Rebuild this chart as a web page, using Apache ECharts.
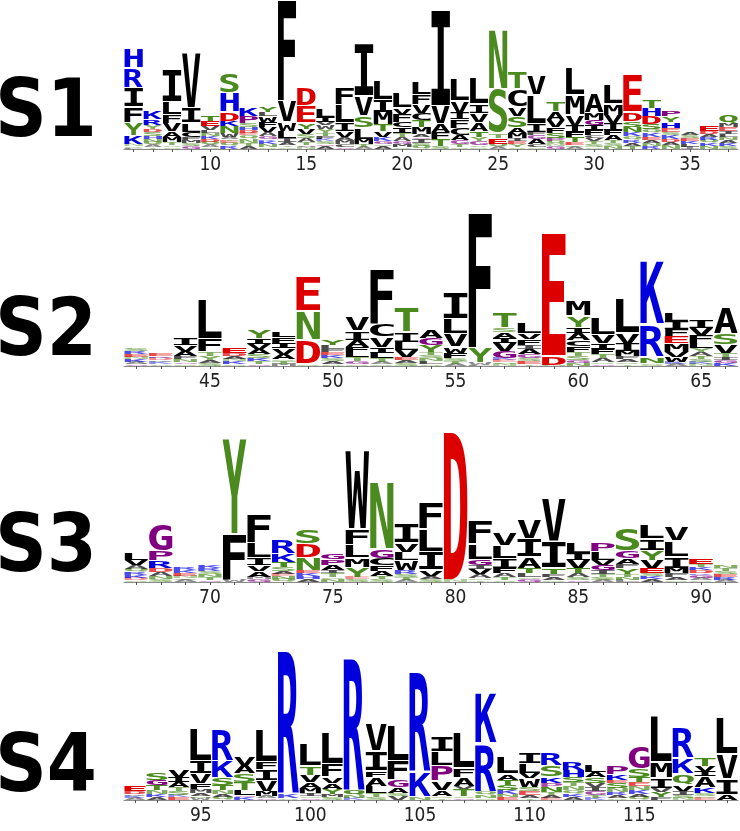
<!DOCTYPE html>
<html>
<head>
<meta charset="utf-8">
<script src="https://cdn.jsdelivr.net/npm/echarts@6/dist/echarts.min.js"></script>
<style>html,body{margin:0;padding:0;background:#fff}#c{width:740px;height:831px}</style>
</head>
<body>
<div id="c"></div>
<script>
// ---- Sequence logo data: each column lists letters bottom -> top with relative heights ----
const panelLabels = ['S1', 'S2', 'S3', 'S4'];

const s1Positions = ['6','7','8','9','10','11','12','13','14','15','16','17','18','19','20','21','22','23','24','25','26','27','28','29','30','31','32','33','34','35','36','37'];
const s1Columns = [
  'L1 Q2 N2 K8 Y13 F16 I19 R20 H20',
  'T2 A2 Q3 N3 H3 S4 D3 Y4 R6 K8',
  'Q2 S2 T3 M5 A6 V8 F8 L13 I33',
  'G3 S3 M3 F3 C5 L9 I15 V56',
  'S2 A2 Q3 D3 K3 N3 L3 V4 E5 T5',
  'R3 Q3 E2 T2 A2 W4 N7 K5 D9 H19 S21',
  'A3 T3 N4 Q4 E2 D3 H3 S4 P7 K8',
  'S2 N3 K3 R2 G3 A4 V5 F5 W6 L4 Y5',
  'S2 T2 A3 I4 L7 W9 V21 F101',
  'N2 G2 T3 A4 S4 V5 Y6 E17 D18',
  'A3 G2 S3 K2 F3 T3 Y4 W4 V3 I5 L9',
  'G2 C3 M4 A3 V6 I8 L18 F17',
  'A2 T3 M5 L11 S12 V20 I53',
  'A3 S2 G3 K4 V6 T7 M12 I12 L20',
  'S2 M3 G3 A4 T4 I6 C5 F8 V6 L15',
  'Q3 S3 I4 G2 A3 M7 T7 C7 V9 F10 L12',
  'S3 T7 F7 A8 V18 I96',
  'S2 T3 G4 A5 C7 F9 I7 V11 L23',
  'S2 Q2 G4 Y4 T6 A9 V9 I9 L26',
  'A2 Q3 E6 T4 S45 N60',
  'Q2 Y3 E3 I3 M5 A5 S12 V9 C18 T17',
  'S2 C3 A5 G4 F3 I8 L29 V20',
  'G3 N2 Q3 P3 S5 F6 V7 A8 T10',
  'A2 S2 E3 T5 F5 I7 V10 M20 L28',
  'Q2 S3 T3 V3 C3 F5 I5 G5 M7 A20',
  'N3 S3 T3 A5 F5 I7 V8 M11 L19',
  'T3 A3 R3 Q4 K4 N5 S6 D9 E39',
  'R3 N3 A3 E3 K4 Q4 S5 D8 H8 T9',
  'N4 A3 D3 K4 S3 E4 H6 Y6 P6',
  'I2 L3 K3 E3 S3 A3',
  'N3 K3 Q3 R3 A3 D3 E5',
  'S3 K3 A3 N3 L3 I3 E4 M4 Q8'
];

const s2Positions = ['42','43','44','45','46','47','48','49','50','51','52','53','54','55','56','57','58','59','60','61','62','63','64','65','66'];
const s2Columns = [
  'G2 A2 K3 N2 E3 R3 S3',
  'Q2 K2 S2 D2 R2 E3',
  'S2 G2 N3 F3 A5 V6 I7',
  'S3 A3 Y4 T4 F13 L40',
  'S2 K3 N2 A3 D3 E5',
  'G2 T3 K3 S4 A5 V5 I6 Y8',
  'M2 T3 S2 A5 V6 I5 F6 L5',
  'S2 D24 N29 E35',
  'Q2 A3 S3 K3 E3 F3 L4 Y6',
  'S2 G3 T4 L5 F5 A7 I9 V14',
  'S2 A2 T4 L5 I6 V10 C13 F56',
  'S3 A3 E3 V7 L8 I10 T26',
  'Q2 L3 N3 S3 T3 Y7 G7 A8',
  'A2 T3 S3 F5 W6 V13 L15 I27',
  'L1 W2 Y15 F135',
  'N2 Q2 E2 K2 G7 V8 I5 A6 S4 T16',
  'T2 E3 S3 G4 A5 I4 F6 V6 L11',
  'N1 D9 E124',
  'N3 G3 S4 T4 F6 C6 A7 I6 Y11 M16',
  'G2 S2 A4 T4 F5 I6 V8 L17',
  'T2 S2 A3 F3 M5 I8 V10 L35',
  'S1 Q2 N6 R33 K64',
  'A2 K2 W5 V5 M9 E7 F7 I8 L8',
  'N2 K2 S3 T3 A4 Y4 L5 F8 V7 I8',
  'K3 G3 I3 T4 V8 S11 A26'
];

const s3Positions = ['67','68','69','70','71','72','73','74','75','76','77','78','79','80','81','82','83','84','85','86','87','88','89','90','91'];
const s3Columns = [
  'S2 D2 K3 R3 Q3 A4 V5 L7',
  'S3 N3 A4 D4 R7 P10 G28',
  'A2 S2 N2 E3 K3 R3',
  'G2 T3 N3 S3 R3 K3',
  'W2 F46 Y96',
  'G3 M2 A6 V6 I7 L15 F30',
  'Q3 N3 E2 A3 S4 T5 K8 R14',
  'A3 H3 K3 E3 N12 D14 S14',
  'N3 S2 T4 I3 A5 P6 G5',
  'S3 E2 Y10 M9 L13 F16 W79',
  'S3 T3 A5 F6 C7 G9 N67',
  'A2 T3 S3 R4 W10 L8 V9 I20',
  'S3 A3 V6 I18 L23 F27',
  'N2 D148',
  'T2 S2 A4 V5 I4 G5 L16 F24',
  'S2 T3 A4 F5 I10 L12 V13',
  'G3 S2 L4 T5 A11 I18 V19',
  'S2 A3 F3 T6 I26 V44',
  'G2 S3 A4 T5 V8 I7 L11',
  'A2 S3 T3 I4 G5 V5 L9 P9',
  'L2 N3 T3 Y6 F4 A6 G7 S24',
  'A3 K3 S3 E5 V8 Y10 I11 L14',
  'S2 A3 F4 M5 I11 L16 V14',
  'S2 A2 G3 R2 D3 K3 T3 E6',
  'A2 R3 E3 S3 T3 N3'
];

const s4Positions = ['92','93','94','95','96','97','98','99','100','101','102','103','104','105','106','107','108','109','110','111','112','113','114','115','116','117','118','119'];
const s4Columns = [
  'A2 K2 S2 D3 E5',
  'A3 K3 N4 T5 G5 S7',
  'E3 K2 S4 T4 A5 I5 V7',
  'W2 S2 A3 M4 F6 V10 I12 L34',
  'Q3 A3 N4 T5 S7 K17 R33',
  'K3 G2 L5 T8 S9 A8 V8',
  'G2 A2 M5 V11 I11 F7 L34',
  'Q2 K4 R145',
  'G2 S2 I3 M5 A6 V7 T9 L23',
  'S3 M3 Y5 A6 V6 F13 L32',
  'K2 N3 Q5 R135',
  'S3 T4 L7 A9 F6 I20 V28',
  'V4 S3 A6 G7 F19 L36',
  'N3 K25 R102',
  'T2 S2 A6 V9 P15 L14 I15',
  'G2 S2 T7 V3 A9 F9 L36',
  'S2 N3 Q3 R49 K51',
  'E3 N3 K4 S5 T5 A6 L17',
  'T2 A3 E4 S4 W9 V5 L10 I11',
  'E2 A3 T3 N5 P4 K6 S11 R13',
  'A3 K3 Q4 N4 T4 S5 H7 R8',
  'K2 T3 G4 I4 V4 S6 A5 L7',
  'Q2 A3 R3 N4 S5 E3 K6 P9',
  'Q3 A3 K4 N4 E4 T5 S8 G24',
  'F3 Y5 V4 I10 M16 L47',
  'N2 S3 I4 V6 Q11 K16 R31',
  'E2 Q2 S3 K6 A11 I5 V5 T9',
  'A5 I16 V25 L37'
];

// ---- colours by residue class ----
const blackSet = 'ACFILMVW', purpleSet = 'GP', greenSet = 'STNQY', redSet = 'DE', blueSet = 'KRH';
function colorOf(ch) {
  if (purpleSet.includes(ch)) return '#800080';
  if (greenSet.includes(ch)) return '#4a8a1e';
  if (redSet.includes(ch)) return '#dd0000';
  if (blueSet.includes(ch)) return '#0000dd';
  return '#000000';
}

const LFAMILY = '"DejaVu Sans Mono"';
const LSIZE = 100;
const LFONT = 'bold ' + LSIZE + 'px ' + LFAMILY;
const mctx = document.createElement('canvas').getContext('2d');
mctx.font = LFONT; mctx.textBaseline = 'middle'; mctx.textAlign = 'left';
const metricCache = {};
function metrics(ch) {
  if (!metricCache[ch]) {
    const m = mctx.measureText(ch);
    metricCache[ch] = {l: m.actualBoundingBoxLeft, r: m.actualBoundingBoxRight,
                       a: m.actualBoundingBoxAscent, d: m.actualBoundingBoxDescent};
  }
  return metricCache[ch];
}

function buildData(columns) {
  const data = [], letters = [];
  columns.forEach((col, i) => {
    let cum = 0;
    col.trim().split(/\s+/).forEach(tok => {
      const ch = tok[0], h = parseFloat(tok.slice(1));
      data.push([i, cum, cum + h]);
      letters.push(ch);
      cum += h;
    });
  });
  return {data, letters};
}

function makeRender(letters) {
  return function (params, api) {
    const ch = letters[params.dataIndex];
    const cat = api.value(0);
    const pb = api.coord([cat, api.value(1)]);
    const pt = api.coord([cat, api.value(2)]);
    const bw = api.size([1, 0])[0];
    const w = bw * 0.97;
    const x0 = pb[0] - w / 2;
    const h = pb[1] - pt[1];
    const pad = Math.min(h * 0.04, 1.2);
    const hh = Math.max(h - 2 * pad, 0.2);
    const top = pt[1] + pad;
    const m = metrics(ch);
    const sx = w / (m.l + m.r);
    const sy = hh / (m.a + m.d);
    const op = h <= 2.5 ? 0.45 : (h <= 4 ? 0.7 : 1);
    return {
      type: 'text',
      x: x0 + m.l * sx,
      y: top + m.a * sy,
      scaleX: sx, scaleY: sy,
      silent: true,
      style: {text: ch, fontFamily: LFAMILY, fontSize: LSIZE, fontWeight: 'bold',
              fill: colorOf(ch), opacity: op, align: 'left', verticalAlign: 'middle'}
    };
  };
}

const panels = [
  {pos: s1Positions, cols: s1Columns, top: 0, height: 149, labelY: 115.5},
  {pos: s2Positions, cols: s2Columns, top: 216, height: 150, labelY: 334},
  {pos: s3Positions, cols: s3Columns, top: 432, height: 150, labelY: 550.5},
  {pos: s4Positions, cols: s4Columns, top: 650, height: 150, labelY: 770.5}
];

const grids = [], xAxes = [], yAxes = [], series = [], graphics = [];
panels.forEach((p, i) => {
  grids.push({left: 124, width: 614, top: p.top, height: p.height});
  xAxes.push({
    type: 'category', gridIndex: i, data: p.pos, boundaryGap: true,
    axisLine: {show: true, lineStyle: {color: '#8a8a8a', width: 1}},
    axisTick: {show: true, alignWithLabel: true, interval: 0, length: 3, lineStyle: {color: '#555'}},
    axisLabel: {
      interval: function (idx, val) { return Number(val) % 5 === 0; },
      color: '#222', fontSize: 19, margin: 7,
      fontFamily: '"Liberation Sans Narrow", "DejaVu Sans Condensed", sans-serif'
    },
    splitLine: {show: false}
  });
  yAxes.push({type: 'value', gridIndex: i, min: 0, max: p.height, show: false, splitLine: {show: false}});
  const built = buildData(p.cols);
  series.push({
    type: 'custom', xAxisIndex: i, yAxisIndex: i, clip: false, silent: true, animation: false,
    encode: {x: 0, y: [1, 2]},
    renderItem: makeRender(built.letters),
    data: built.data
  });
  graphics.push({
    type: 'text', x: -5, y: p.labelY, scaleX: 0.9, silent: true,
    style: {text: panelLabels[i], fontFamily: '"DejaVu Sans"', fontWeight: 'bold', fontSize: 80,
            fill: '#000', verticalAlign: 'middle', align: 'left'}
  });
});

const chart = echarts.init(document.getElementById('c'), null, {renderer: 'canvas'});
chart.setOption({
  animation: false,
  grid: grids, xAxis: xAxes, yAxis: yAxes, series: series,
  graphic: graphics
});
</script>
</body>
</html>
